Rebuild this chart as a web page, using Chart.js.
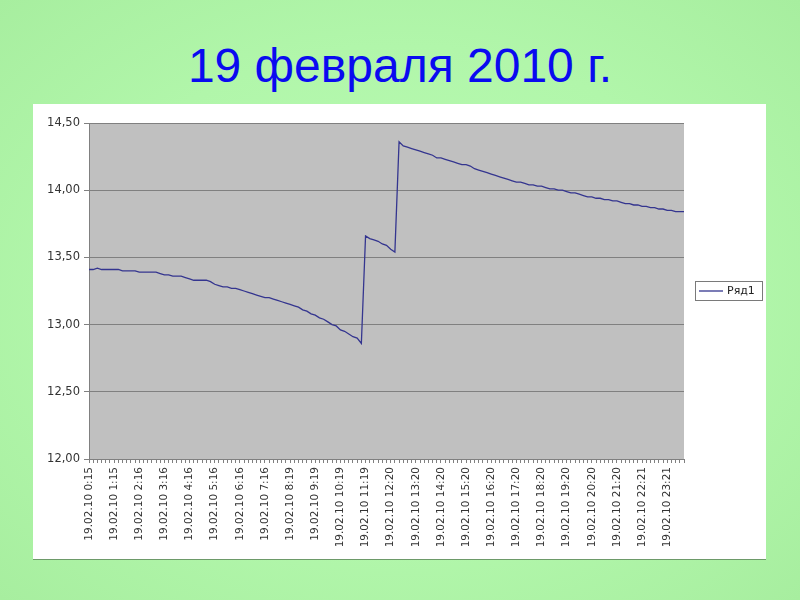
<!DOCTYPE html>
<html lang="ru">
<head>
  <meta charset="UTF-8" />
  <title>19 февраля 2010 г.</title>
  <script src="https://cdn.jsdelivr.net/npm/chart.js"></script>
  <style>
    body {
      margin: 0;
      width: 800px;
      height: 600px;
      overflow: hidden;
      background: radial-gradient(ellipse at center, #bafcb4 0%, #b1f6aa 60%, #a7ee9f 100%);
      font-family: "Liberation Sans", Arial, sans-serif;
      position: relative;
    }

    h1 {
      position: absolute;
      left: 0;
      top: 38px;
      width: 800px;
      margin: 0;
      text-align: center;
      font-weight: normal;
      font-size: 48px;
      color: #0a0af0;
    }

    .box {
      position: absolute;
      left: 33px;
      top: 104px;
      width: 733px;
      height: 455px;
      background: #fff;
      box-shadow: 0 1px 0 #6d9a69;
    }
  </style>
</head>
<body>
  <h1>19 февраля 2010 г.</h1>

  <div class="box">
    <canvas id="chart1" width="733" height="455"></canvas>
  </div>

  <script>
    // подписи по оси X (каждая 6-я точка, шаг ~10 минут)
    const tickLabels = [
      "19.02.10 0:15", "19.02.10 1:15", "19.02.10 2:16", "19.02.10 3:16",
      "19.02.10 4:16", "19.02.10 5:16", "19.02.10 6:16", "19.02.10 7:16",
      "19.02.10 8:19", "19.02.10 9:19", "19.02.10 10:19", "19.02.10 11:19",
      "19.02.10 12:20", "19.02.10 13:20", "19.02.10 14:20", "19.02.10 15:20",
      "19.02.10 16:20", "19.02.10 17:20", "19.02.10 18:20", "19.02.10 19:20",
      "19.02.10 20:20", "19.02.10 21:20", "19.02.10 22:21", "19.02.10 23:21"
    ];
    const labelEvery = 6;

    const seriesName = "Ряд1";
    const values = [
      13.41, 13.41, 13.42, 13.41, 13.41, 13.41, 13.41, 13.41, 13.40, 13.40,
      13.40, 13.40, 13.39, 13.39, 13.39, 13.39, 13.39, 13.38, 13.37, 13.37,
      13.36, 13.36, 13.36, 13.35, 13.34, 13.33, 13.33, 13.33, 13.33, 13.32,
      13.30, 13.29, 13.28, 13.28, 13.27, 13.27, 13.26, 13.25, 13.24, 13.23,
      13.22, 13.21, 13.20, 13.20, 13.19, 13.18, 13.17, 13.16, 13.15, 13.14,
      13.13, 13.11, 13.10, 13.08, 13.07, 13.05, 13.04, 13.02, 13.00, 12.99,
      12.96, 12.95, 12.93, 12.91, 12.90, 12.86, 13.66, 13.64, 13.63, 13.62,
      13.60, 13.59, 13.56, 13.54, 14.36, 14.33, 14.32, 14.31, 14.30, 14.29,
      14.28, 14.27, 14.26, 14.24, 14.24, 14.23, 14.22, 14.21, 14.20, 14.19,
      14.19, 14.18, 14.16, 14.15, 14.14, 14.13, 14.12, 14.11, 14.10, 14.09,
      14.08, 14.07, 14.06, 14.06, 14.05, 14.04, 14.04, 14.03, 14.03, 14.02,
      14.01, 14.01, 14.00, 14.00, 13.99, 13.98, 13.98, 13.97, 13.96, 13.95,
      13.95, 13.94, 13.94, 13.93, 13.93, 13.92, 13.92, 13.91, 13.90, 13.90,
      13.89, 13.89, 13.88, 13.88, 13.87, 13.87, 13.86, 13.86, 13.85, 13.85,
      13.84, 13.84, 13.84
    ];

    const yMin = 12, yMax = 14.5, yStep = 0.5;

    // категории: подпись есть только у каждой 6-й точки
    const categories = values.map((v, i) => i % labelEvery === 0 ? (tickLabels[i / labelEvery] || "") : "");

    // серый фон области построения
    const plotBg = {
      id: "plotBg",
      beforeDraw(chart) {
        const { ctx, chartArea: a } = chart;
        ctx.save();
        ctx.fillStyle = "#c0c0c0";
        ctx.fillRect(a.left, a.top, a.right - a.left, a.bottom - a.top);
        ctx.restore();
      }
    };

    // легенда в рамке, как в Excel
    const boxLegend = {
      id: "boxLegend",
      afterDraw(chart) {
        const { ctx, chartArea: a } = chart;
        const x = a.right + 11, y = 177, w = 67, h = 19;
        ctx.save();
        ctx.strokeStyle = "#7a7a7a";
        ctx.lineWidth = 1;
        ctx.strokeRect(x + 0.5, y + 0.5, w, h);
        ctx.strokeStyle = chart.data.datasets[0].borderColor;
        ctx.lineWidth = 1.3;
        ctx.beginPath();
        ctx.moveTo(x + 4, y + 10);
        ctx.lineTo(x + 28, y + 10);
        ctx.stroke();
        ctx.fillStyle = "#222";
        ctx.font = "11px 'DejaVu Sans'";
        ctx.textBaseline = "middle";
        ctx.fillText(chart.data.datasets[0].label, x + 32, y + 10.5);
        ctx.restore();
      }
    };

    new Chart(document.getElementById("chart1"), {
      type: "line",
      data: {
        labels: categories,
        datasets: [{
          label: seriesName,
          data: values,
          borderColor: "#34358f",
          borderWidth: 1.3,
          pointRadius: 0,
          tension: 0,
          fill: false
        }]
      },
      options: {
        responsive: false,
        animation: false,
        layout: { padding: { top: 19, right: 82, left: 0, bottom: 0 } },
        plugins: {
          legend: { display: false },
          tooltip: { enabled: false }
        },
        scales: {
          x: {
            offset: false,
            afterFit(scale) { scale.height = 100; },
            grid: { drawOnChartArea: false, drawTicks: true, tickLength: 4, color: "#808080" },
            border: { color: "#808080" },
            ticks: {
              autoSkip: false,
              minRotation: 90,
              maxRotation: 90,
              padding: 4,
              color: "#333",
              font: { family: "DejaVu Sans", size: 10.5 }
            }
          },
          y: {
            min: yMin,
            max: yMax,
            afterFit(scale) { scale.width = 56; },
            grid: { color: "#808080", tickLength: 5 },
            border: { color: "#808080" },
            ticks: {
              stepSize: yStep,
              padding: 4,
              color: "#333",
              font: { family: "DejaVu Sans", size: 11.5 },
              callback: v => v.toFixed(2).replace(".", ",")
            }
          }
        }
      },
      plugins: [plotBg, boxLegend]
    });
  </script>
</body>
</html>
